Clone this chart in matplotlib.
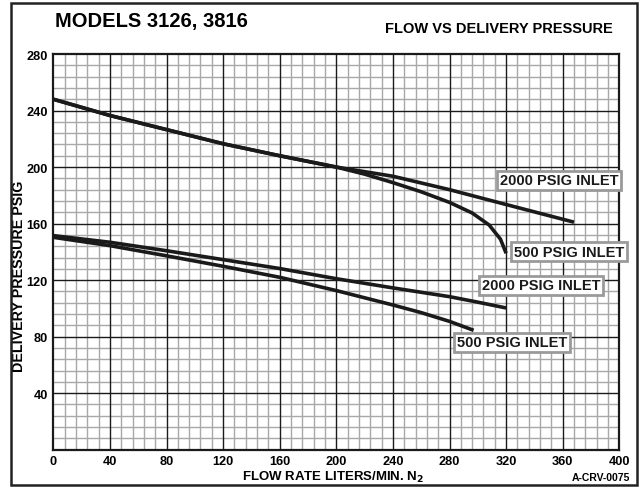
import matplotlib
matplotlib.use("Agg")
import matplotlib.pyplot as plt
from matplotlib.patches import Rectangle

plt.rcParams['font.family'] = ['Liberation Sans Narrow', 'Liberation Sans', 'DejaVu Sans']
plt.rcParams['font.weight'] = 'bold'

# upper pair of curves (shared up to ~200 L/min)
hi_2000_x = [0, 40, 80, 120, 160, 200, 240, 280, 320, 368]
hi_2000_y = [248, 236.5, 226.5, 216.5, 208, 200, 193.5, 184, 173.5, 161]
hi_500_x = [0, 40, 80, 120, 160, 200, 220, 240, 260, 280, 296, 308, 316, 320]
hi_500_y = [248, 236.5, 226.5, 216.5, 208, 200, 195, 189, 182.5, 175, 167.5, 159, 149, 139]

# lower pair of curves
lo_2000_x = [0, 40, 80, 120, 160, 200, 240, 280, 300, 320]
lo_2000_y = [151.5, 146.8, 140.8, 134.5, 128.2, 121, 114.5, 108.3, 104.4, 100.3]
lo_500_x = [0, 40, 80, 120, 160, 200, 240, 260, 280, 297]
lo_500_y = [150.3, 144.4, 137.2, 129.8, 122, 112.6, 102.4, 97, 90.8, 84.5]

labels = ["2000 PSIG INLET", "500 PSIG INLET", "2000 PSIG INLET", "500 PSIG INLET"]
label_pos = [(357.5, 190.7), (364.5, 140), (344.6, 116.4), (324, 76)]

x_ticks = list(range(0, 401, 40))
y_ticks = list(range(0, 281, 40))

fig = plt.figure(figsize=(6.4, 4.89), dpi=100)
ax = fig.add_axes([0.0833, 0.0783, 0.8844, 0.8092])

# outer frame
fig.patches.append(Rectangle((11 / 640, 3 / 489), 626 / 640, 482 / 489, transform=fig.transFigure,
                             fill=False, edgecolor='#222222', linewidth=1.8))

ax.set_xlim(0, 400)
ax.set_ylim(0, 280)

# grid: minor every 8, major every 40
for v in range(8, 400, 8):
    if v % 40:
        ax.axvline(v, color='#a8a8a8', linewidth=1.0, zorder=1)
for v in range(8, 280, 8):
    if v % 40:
        ax.axhline(v, color='#a8a8a8', linewidth=1.0, zorder=1)
for v in x_ticks[1:-1]:
    ax.axvline(v, color='#1a1a1a', linewidth=1.0, zorder=2)
for v in y_ticks[1:-1]:
    ax.axhline(v, color='#1a1a1a', linewidth=1.0, zorder=2)

for xs, ys in [(hi_2000_x, hi_2000_y), (hi_500_x, hi_500_y), (lo_2000_x, lo_2000_y), (lo_500_x, lo_500_y)]:
    ax.plot(xs, ys, color='#1a1a1a', linewidth=2.6, solid_capstyle='butt', solid_joinstyle='round', zorder=3)

for txt, (lx, ly) in zip(labels, label_pos):
    ax.text(lx, ly, txt, ha='center', va='center', fontsize=10.5, fontweight='bold', color='#1a1a1a',
            zorder=5, clip_on=False,
            bbox=dict(boxstyle='square,pad=0.18', facecolor='white', edgecolor='#9a9a9a', linewidth=2))

ax.set_xticks(x_ticks)
ax.set_yticks(y_ticks)
ax.set_yticklabels(['' if v == 0 else str(v) for v in y_ticks])
ax.tick_params(length=0, labelsize=9.2, pad=4)
for lab in ax.get_xticklabels() + ax.get_yticklabels():
    lab.set_fontweight('bold')
for s in ax.spines.values():
    s.set_linewidth(1.6)
    s.set_color('#1a1a1a')
    s.set_zorder(4)

ax.set_xlabel('FLOW RATE LITERS/MIN. N$_2$', fontsize=9.5, fontweight='bold')
ax.xaxis.set_label_coords(0.494, -0.068)
ax.xaxis.label.set_va('center')
ax.set_ylabel('DELIVERY PRESSURE PSIG', fontsize=10.3, fontweight='bold')
ax.yaxis.set_label_coords(-0.061, 0.44)
ax.yaxis.label.set_va('center')

fig.text(55 / 640, 1 - 22 / 489, 'MODELS 3126, 3816', fontsize=14.5, fontweight='bold', va='center', ha='left')
fig.text(613 / 640, 1 - 29 / 489, 'FLOW VS DELIVERY PRESSURE', fontsize=10.5, fontweight='bold', va='center', ha='right')
fig.text(630 / 640, 1 - 478 / 489, 'A-CRV-0075', fontsize=7.5, fontweight='bold', va='center', ha='right')

fig.savefig('out.png', dpi=100)
